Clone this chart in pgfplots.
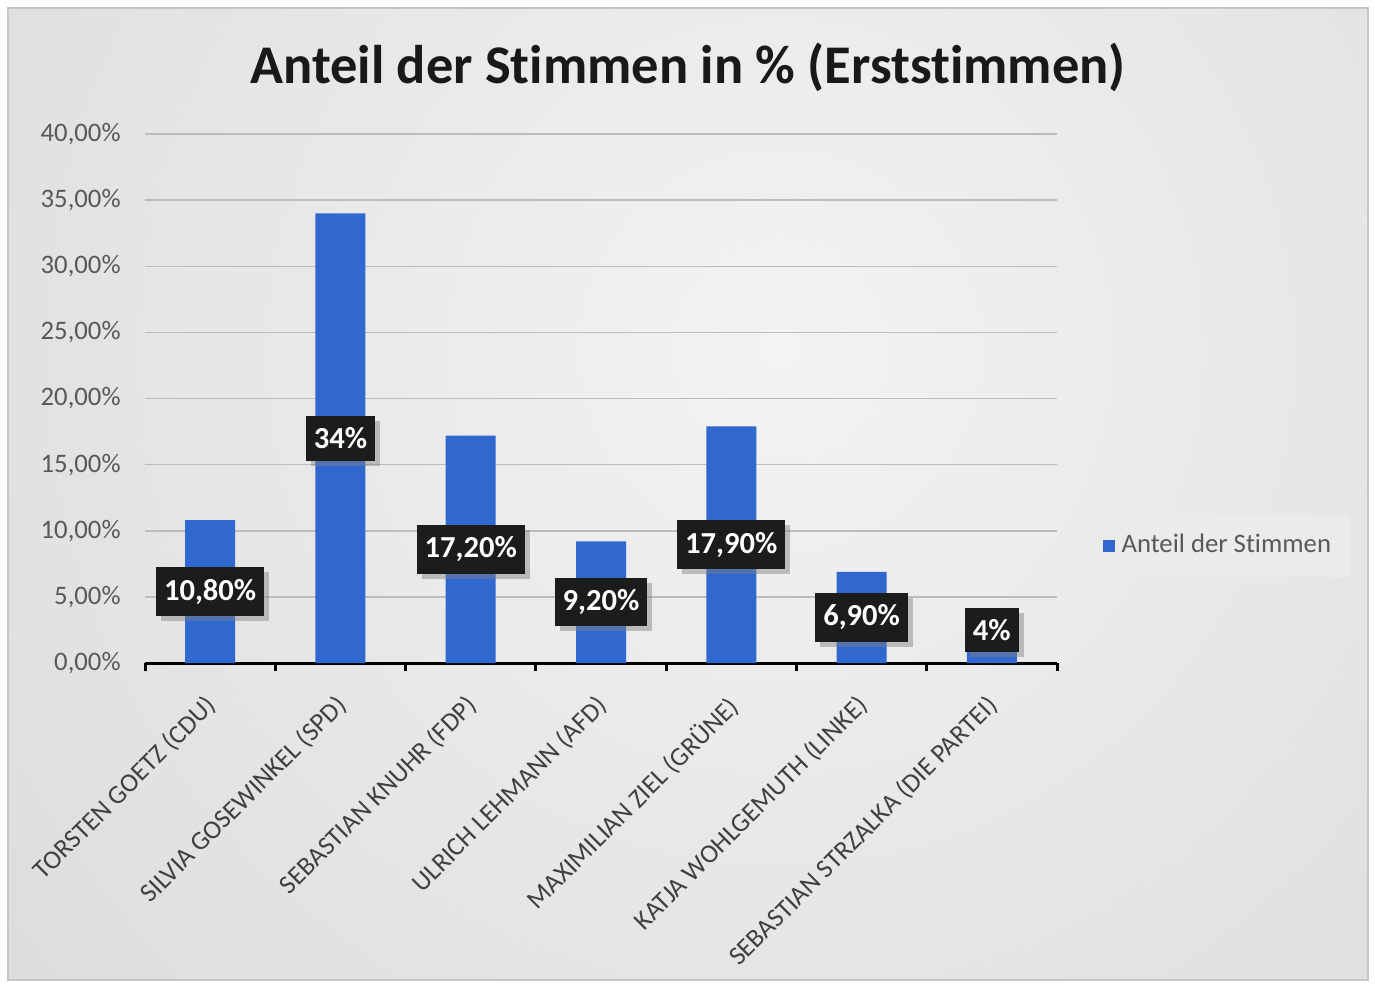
\documentclass[border=0pt]{standalone}
\usepackage{fontspec}
\setmainfont{Carlito}[RawFeature={-liga;-clig;-dlig}]
\usepackage{pgfplots}
\pgfplotsset{compat=1.18}
\usetikzlibrary{shadows}
\definecolor{barblue}{HTML}{3068D0}
\definecolor{bginner}{HTML}{F3F3F3}
\definecolor{bgouter}{HTML}{C6C6C6}
\definecolor{gridgray}{HTML}{BCBCBC}
\definecolor{ylabgray}{HTML}{595959}
\definecolor{xlabgray}{HTML}{404040}
\definecolor{legendfill}{HTML}{EBEBEB}
\definecolor{boxdark}{HTML}{1C1C1C}
\begin{document}
\begin{tikzpicture}
\useasboundingbox (0,0) rectangle (137.5mm,98.4mm);
\fill[white] (0,0) rectangle (137.5mm,98.4mm);
\begin{scope}
\clip (0.8mm,0.4mm) rectangle (136.8mm,97.6mm);
\fill[bgouter] (0.8mm,0.4mm) rectangle (136.8mm,97.6mm);
\shade[inner color=bginner, outer color=bgouter] (78mm,63.4mm) circle (200mm);
\end{scope}
\draw[gray!45, line width=0.25mm] (0.8mm,0.4mm) rectangle (136.8mm,97.6mm);
\node[font=\fontsize{15.5pt}{18pt}\selectfont\bfseries, text=black!90] at (68.8mm,91.7mm) {Anteil der Stimmen in \% (Erststimmen)};
\begin{axis}[
 at={(14.5mm,32.1mm)}, anchor=south west,
 scale only axis, width=91.2mm, height=52.9mm,
 xmin=-0.5, xmax=6.5, ymin=0, ymax=40,
 axis x line*=bottom, axis y line*=left,
 x axis line style={black, line width=0.3mm, -},
 y axis line style={draw=none},
 ytick={0,5,...,40},
 yticklabels={{0,00\%},{5,00\%},{10,00\%},{15,00\%},{20,00\%},{25,00\%},{30,00\%},{35,00\%},{40,00\%}},
 ytick style={draw=none},
 ymajorgrids, grid style={color=gridgray, line width=0.15mm},
 xtick={0,...,6},
 xticklabels={{TORSTEN GOETZ (CDU)},{SILVIA GOSEWINKEL (SPD)},{SEBASTIAN KNUHR (FDP)},{ULRICH LEHMANN (AFD)},{MAXIMILIAN ZIEL (GRÜNE)},{KATJA WOHLGEMUTH (LINKE)},{SEBASTIAN STRZALKA (DIE PARTEI)}},
 major x tick style={draw=none},
 minor xtick={-0.5,0.5,...,6.5},
 minor x tick style={black, line width=0.3mm},
 tick align=outside, minor tick length=0.8mm,
 xticklabel style={rotate=45, anchor=north east, font=\fontsize{7.5pt}{9pt}\selectfont, text=xlabgray, xshift=-0.3mm, yshift=0.6mm},
 yticklabel style={font=\fontsize{7.6pt}{9pt}\selectfont, text=ylabgray, xshift=0.3mm},
 legend style={at={(1.036,0.221)}, anchor=west, draw=none, fill=legendfill, font=\fontsize{7.6pt}{9pt}\selectfont, text=ylabgray, inner xsep=1.2mm, inner ysep=1.2mm},
 clip=false,
]
\addplot[ybar, bar width=5mm, fill=barblue, draw=none,
 legend image code/.code={\fill[barblue] (0mm,-0.6mm) rectangle (1.2mm,0.6mm);}]
 coordinates {(0,10.8) (1,34) (2,17.2) (3,9.2) (4,17.9) (5,6.9) (6,4)};
\addlegendentry{Anteil der Stimmen}
\addplot[draw=none, mark=none, forget plot, nodes near coords, point meta=explicit symbolic,
 every node near coord/.append style={anchor=center, fill=boxdark, text=white,
 font=\fontsize{8.7pt}{10pt}\selectfont\bfseries, inner xsep=0.8mm, minimum height=4.3mm,
 drop shadow={shadow xshift=0.5mm, shadow yshift=-0.5mm, opacity=0.45}}]
 table[x=x, y=y, meta=lab] {
x y lab
0 5.4 {10,80\%}
1 17 {34\%}
2 8.6 {17,20\%}
3 4.6 {9,20\%}
4 8.95 {17,90\%}
5 3.45 {6,90\%}
6 2.5 {4\%}
};
\end{axis}
\end{tikzpicture}
\end{document}
